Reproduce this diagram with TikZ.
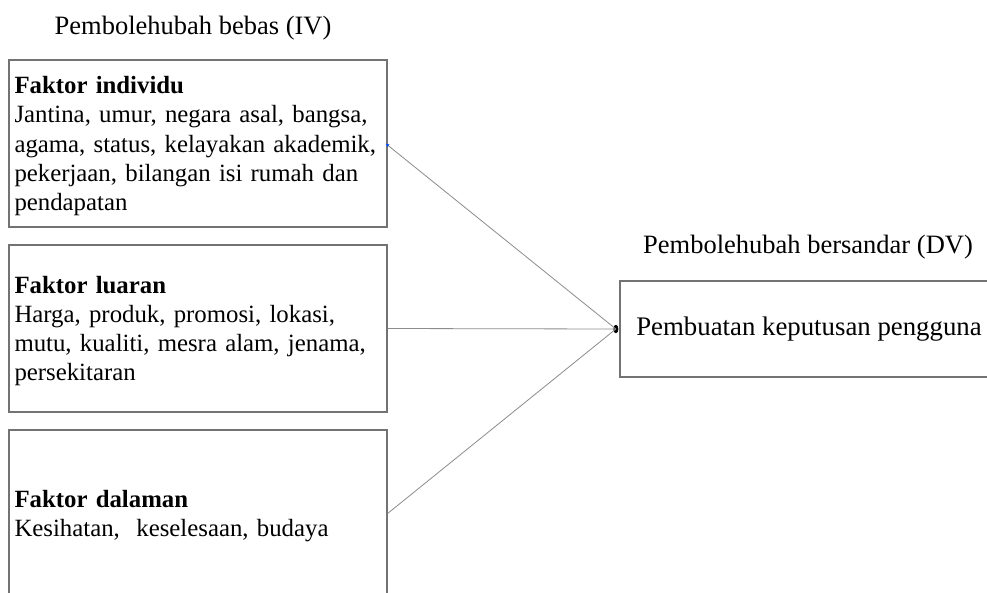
\documentclass[tikz,border=0pt]{standalone}
\usepackage{fontspec}
\setmainfont{Liberation Serif}
\usetikzlibrary{arrows.meta,shapes.geometric}
\newcommand{\jline}[1]{\makebox[\linewidth][s]{#1}}
\newcommand{\topstrut}{\rule{0pt}{22.5pt}}
\begin{document}
\begin{tikzpicture}[x=1pt,y=-1pt,
  factorbox/.style={draw=black!55, line width=1.2pt, text width=367pt, inner xsep=5.5pt,
    minimum width=378pt, minimum height=167pt, align=left,
    font=\fontsize{24.8}{29.2}\selectfont},
  dvbox/.style={draw=black!55, line width=1.2pt, minimum width=378pt, minimum height=96pt,
    font=\fontsize{26.8}{30}\selectfont},
  titletext/.style={font=\fontsize{26.5}{30}\selectfont, anchor=base, inner sep=0pt},
  conn/.style={draw=black!45, line width=0.8pt},
  dotnode/.style={fill=black, ellipse, minimum width=5pt, minimum height=8.5pt, inner sep=0pt}
]
\path[use as bounding box, clip] (0,0) rectangle (987,592);
\fill[white] (0,0) rectangle (987,592);

\node[titletext] (ivtitle) at (193,34) {Pembolehubah bebas (IV)};
\node[titletext] (dvtitle) at (808,253) {Pembolehubah bersandar (DV)};

\node[factorbox] (b1) at (198,143.5) {\topstrut\textbf{Faktor individu}\\
\jline{Jantina, umur, negara asal, bangsa,}\\
\jline{agama, status, kelayakan akademik,}\\
\jline{pekerjaan, bilangan isi rumah dan}\\
pendapatan};

\node[factorbox] (b2) at (198,328.5) {\topstrut\textbf{Faktor luaran}\\
\jline{Harga, produk, promosi, lokasi,}\\
\jline{mutu, kualiti, mesra alam, jenama,}\\
persekitaran};

\node[factorbox] (b3) at (198,513.5) {\topstrut\textbf{Faktor dalaman}\\
Kesihatan,\ \ keselesaan, budaya};

\node[dvbox] (dv) at (809,329) {Pembuatan keputusan pengguna};

\node[dotnode] (dot) at ([xshift=-3.5pt]dv.west) {};

\draw[conn, {Latex[length=3.5pt,width=3.5pt,color=blue!70!cyan]}-] ([xshift=-2pt]b1.east) -- (dot.center);
\draw[conn] (b2.east) -- (dot.center);
\draw[conn] (b3.east) -- (dot.center);
\end{tikzpicture}
\end{document}
